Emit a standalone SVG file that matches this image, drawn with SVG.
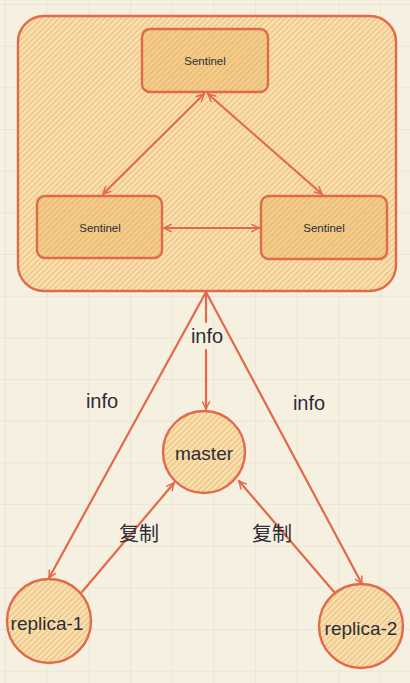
<svg xmlns="http://www.w3.org/2000/svg" width="410" height="683" viewBox="0 0 410 683">
<defs>
<pattern id="grid" x="5" y="4" width="41.67" height="41.67" patternUnits="userSpaceOnUse">
<path d="M0,0 H41.67 M0,0 V41.67" fill="none" stroke="#e2ddcc" stroke-width="1"/>
</pattern>
<pattern id="hatchLight" width="4" height="4" patternUnits="userSpaceOnUse" patternTransform="rotate(-45)">
<rect width="4" height="4" fill="#f2cb88"/>
<rect width="4" height="1.5" fill="#fae9cb"/>
</pattern>
<pattern id="hatchDark" width="4" height="4" patternUnits="userSpaceOnUse" patternTransform="rotate(-45)">
<rect width="4" height="4" fill="#eec077"/>
<rect width="4" height="1.1" fill="#f6d8a2"/>
</pattern>
<marker id="arr" viewBox="0 0 10 10" refX="9" refY="5" markerWidth="9" markerHeight="9" markerUnits="userSpaceOnUse" orient="auto-start-reverse">
<path d="M1,1 L9,5 L1,9" fill="none" stroke="#e2694a" stroke-width="1.6" stroke-linecap="round" stroke-linejoin="round"/>
</marker>
</defs>
<style>
.box{stroke:#e2694a;stroke-width:2.4;fill:url(#hatchDark)}
.node{stroke:#e2694a;stroke-width:2.4;fill:url(#hatchLight)}
.edge{stroke:#e2694a;stroke-width:2.2;fill:none;stroke-linecap:round}
.t{font-family:"Liberation Sans",Arial,sans-serif;fill:#2d2d3a;text-anchor:middle;dominant-baseline:central}
.ts{font-size:11.5px}
.tm{font-size:19px}
.tl{font-size:20px}
.tc{font-family:"Liberation Sans","Noto Sans CJK SC",sans-serif;font-size:20px;fill:#2d2d3a;text-anchor:middle;dominant-baseline:central}
</style>
<rect width="410" height="683" fill="#f5f0e0"/>
<rect width="410" height="683" fill="url(#grid)"/>

<g id="cluster">
<rect x="18" y="16" width="378" height="275" rx="26" ry="26" class="node" stroke-width="2.6"/>
</g>

<g id="sentinel-top">
<rect x="142" y="29" width="126" height="63" rx="8" class="box"/>
<text x="205" y="61" class="t ts">Sentinel</text>
</g>
<g id="sentinel-left">
<rect x="37" y="196" width="125" height="62" rx="8" class="box"/>
<text x="100" y="228" class="t ts">Sentinel</text>
</g>
<g id="sentinel-right">
<rect x="261" y="196" width="126" height="63" rx="8" class="box"/>
<text x="324" y="228" class="t ts">Sentinel</text>
</g>

<g id="master">
<circle cx="204" cy="452" r="41" class="node"/>
<text x="204" y="453" class="t tm">master</text>
</g>
<g id="replica-1">
<circle cx="49" cy="621" r="42" class="node"/>
<text x="47" y="623" class="t tm">replica-1</text>
</g>
<g id="replica-2">
<circle cx="361" cy="626" r="42" class="node"/>
<text x="361" y="628" class="t tm">replica-2</text>
</g>

<g id="connectors">
<line x1="204" y1="94" x2="103" y2="194" class="edge" marker-start="url(#arr)" marker-end="url(#arr)"/>
<line x1="208" y1="94" x2="322" y2="194" class="edge" marker-start="url(#arr)" marker-end="url(#arr)"/>
<line x1="164" y1="228" x2="259" y2="228" class="edge" marker-start="url(#arr)" marker-end="url(#arr)"/>
<line x1="206" y1="292" x2="206" y2="322" class="edge"/>
<line x1="206" y1="350" x2="206" y2="409" class="edge" marker-end="url(#arr)"/>
<line x1="206" y1="292" x2="49" y2="578" class="edge" marker-end="url(#arr)"/>
<line x1="206" y1="292" x2="362" y2="584" class="edge" marker-end="url(#arr)"/>
<line x1="82" y1="592" x2="174" y2="483" class="edge" marker-end="url(#arr)"/>
<line x1="335" y1="593" x2="239" y2="481" class="edge" marker-end="url(#arr)"/>
<text x="207" y="336" class="t tl">info</text>
<text x="102" y="401" class="t tl">info</text>
<text x="309" y="403" class="t tl">info</text>
<text x="139" y="534" class="tc">复制</text>
<text x="272" y="534" class="tc">复制</text>
</g>
</svg>
